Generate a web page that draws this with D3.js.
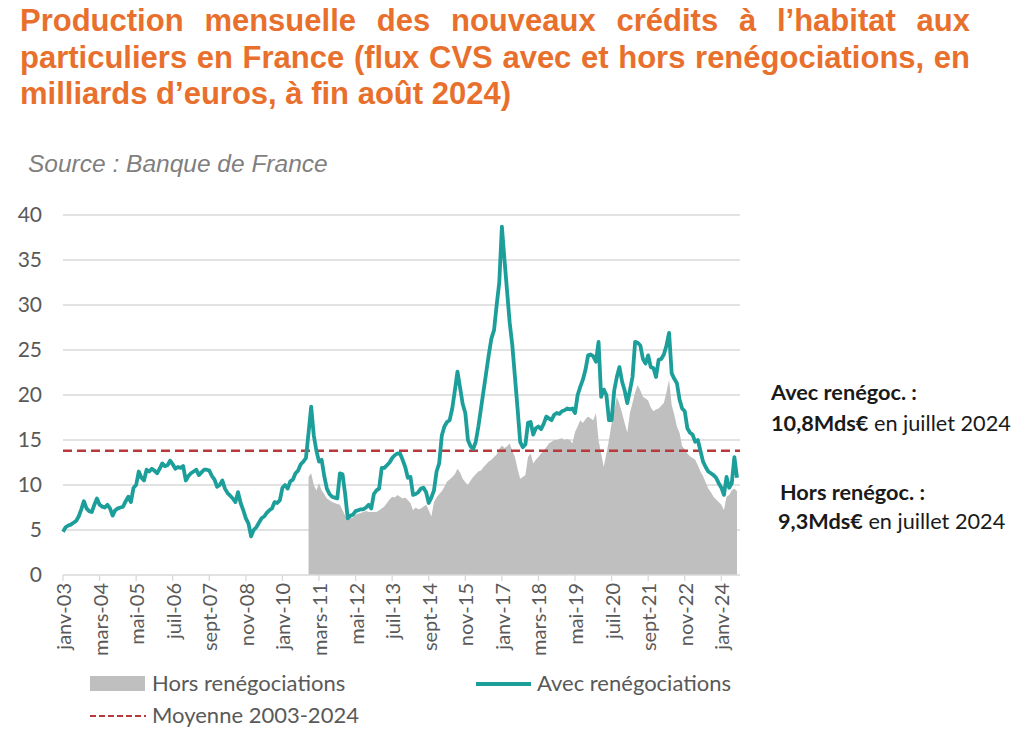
<!DOCTYPE html>
<html><head><meta charset="utf-8">
<script src="https://cdn.jsdelivr.net/npm/d3@7"></script>
<style>
html,body{margin:0;padding:0;background:#fff;}
svg{display:block;}
</style></head>
<body>
<svg id="c" width="1024" height="742"></svg>
<script>
// ---------- DATA ----------
const startYear = 2003; // janv-03 = index 0
const avec = [
 4.8, 5.3, 5.5, 5.6, 5.8, 6.0, 6.5, 7.3, 8.2, 7.4, 7.1, 7.0,
 7.8, 8.5, 7.8, 7.6, 7.5, 7.8, 7.4, 6.6, 7.2, 7.4, 7.5, 7.6,
 8.2, 8.7, 8.1, 9.7, 10.0, 11.5, 10.8, 10.5, 11.7, 11.5, 11.8, 11.6,
 11.3, 11.8, 12.4, 12.1, 12.2, 12.7, 12.3, 11.8, 12.0, 11.9, 12.1, 10.5,
 11.0, 11.3, 11.5, 11.7, 11.1, 11.4, 11.7, 11.7, 11.6, 11.0, 10.6, 9.8,
 10.0, 10.5, 9.6, 9.1, 8.8, 8.5, 8.1, 9.2, 8.0, 7.2, 6.3, 5.7,
 4.3, 5.0, 5.3, 5.8, 6.3, 6.5, 6.9, 7.2, 7.4, 8.1, 8.0, 8.3,
 9.7, 10.0, 9.6, 10.4, 10.6, 11.3, 11.6, 12.3, 12.6, 13.0, 15.8, 18.7,
 15.5, 13.8, 12.6, 12.8, 11.0, 9.6, 9.0, 8.7, 8.6, 8.5, 11.3, 11.2,
 9.0, 6.3, 6.6, 6.7, 7.1, 7.2, 7.3, 7.3, 7.5, 7.8, 7.4, 9.0,
 9.4, 9.6, 11.9, 11.9, 12.2, 12.5, 13.0, 13.3, 13.5, 13.5, 12.8, 12.0,
 10.8, 10.9, 8.9, 9.0, 9.2, 9.6, 9.7, 9.2, 8.0, 8.6, 9.4, 11.5,
 12.4, 15.5, 16.5, 17.0, 17.2, 18.5, 20.5, 22.6, 20.8, 19.0, 18.0, 15.0,
 14.3, 14.0, 14.8, 16.5, 18.5, 20.5, 22.5, 24.5, 26.3, 27.2, 30.0, 32.5,
 38.7, 35.0, 31.5, 28.0, 25.5, 22.0, 18.5, 14.8, 14.2, 14.5, 16.9, 17.0,
 15.6, 16.3, 16.5, 16.2, 16.8, 17.6, 17.4, 17.2, 17.8, 18.0, 17.9, 18.2,
 18.3, 18.5, 18.4, 18.5, 18.0, 20.0, 20.9, 21.7, 22.8, 24.4, 24.5, 24.3,
 23.7, 25.9, 19.8, 20.6, 20.0, 17.2, 17.2, 20.5, 22.0, 23.1, 21.5, 20.5,
 19.1, 20.5, 22.0, 25.9, 25.8, 25.5, 24.0, 23.5, 24.4, 23.1, 23.0, 22.0,
 23.9, 24.0, 24.5, 25.5, 26.9, 22.4, 21.8, 21.3, 19.5, 18.5, 18.2, 16.3,
 15.8, 15.6, 14.8, 15.0, 13.8, 12.6, 12.0, 11.5, 11.3, 11.1, 10.8, 10.2,
 9.7, 8.9, 10.9, 9.7, 10.2, 13.1, 10.8
];
const horsStart = 94; // nov-10
const hors = [
 10.9, 11.3,
 10.0, 9.4, 10.2, 9.4, 9.0, 8.5, 8.3, 8.1, 8.0, 7.9, 7.8, 7.2,
 6.6, 6.1, 6.3, 6.4, 6.7, 6.8, 6.9, 7.0, 7.1, 7.0, 7.0, 7.0,
 7.0, 7.2, 7.4, 7.6, 8.0, 8.4, 8.7, 8.6, 8.9, 8.7, 8.5, 8.6,
 8.3, 8.0, 7.2, 7.5, 7.3, 7.4, 7.6, 7.8, 7.2, 6.5, 8.1, 8.6,
 9.0, 9.3, 9.8, 10.4, 10.6, 10.9, 11.2, 11.8, 11.4, 10.7, 10.3, 10.0,
 10.5, 10.9, 11.2, 11.5, 11.6, 12.0, 12.3, 12.6, 12.8, 13.1, 13.4, 14.0,
 14.4, 14.1, 14.3, 14.6, 13.8, 13.1, 11.8, 10.7, 10.9, 11.1, 13.1, 13.5,
 12.4, 12.8, 13.1, 13.5, 13.8, 14.2, 14.6, 14.8, 15.0, 15.0, 15.1, 15.2,
 15.0, 15.1, 15.0, 14.6, 15.9, 16.5, 17.2, 16.9, 17.3, 17.6, 17.4, 17.2,
 18.0, 15.0, 13.5, 12.0, 13.5, 15.0, 16.9, 18.3, 19.8, 19.0, 18.0, 16.9,
 15.8, 18.0, 19.1, 20.3, 21.1, 20.5, 19.8, 19.6, 19.4, 18.6, 18.2, 18.4,
 18.5, 18.8, 19.1, 20.3, 21.7, 18.9, 17.8, 16.5, 15.8, 14.3, 14.0, 13.5,
 13.2, 13.0, 12.8, 12.2, 11.5, 11.0, 10.3, 9.6, 9.2, 8.7, 8.4, 8.1,
 7.8, 7.2, 8.7, 8.9, 9.4, 9.6, 9.3
];
const moyenne = 13.8;
const yTicks = [0, 5, 10, 15, 20, 25, 30, 35, 40];
const xTickIndex = [0,14,28,42,56,70,84,98,112,126,140,154,168,182,196,210,224,238,252];
const xTickLabels = ["janv-03","mars-04","mai-05","juil-06","sept-07","nov-08","janv-10","mars-11","mai-12","juil-13","sept-14","nov-15","janv-17","mars-18","mai-19","juil-20","sept-21","nov-22","janv-24"];
const titleLines = [
 "Production mensuelle des nouveaux crédits à l’habitat aux",
 "particuliers en France (flux CVS avec et hors renégociations, en",
 "milliards d’euros, à fin août 2024)"
];
const sourceText = "Source : Banque de France";
const legendLabels = ["Hors renégociations", "Avec renégociations", "Moyenne 2003-2024"];

// ---------- CHART ----------
const svg = d3.select("#c");
const ORANGE = "#E8702C", TEAL = "#1C9E9A", GREY = "#BFBFBF", RED = "#B8383B";
const FONT = "Lato, 'Open Sans', sans-serif";

const x = d3.scaleLinear().domain([0, avec.length - 1]).range([63, 737]);
const y = d3.scaleLinear().domain([0, 40]).range([575, 215]);

// title (justified)
const tsize = 31;
const tl = svg.append("g").attr("font-family","'Liberation Sans', Arial, sans-serif")
  .attr("font-weight","bold").attr("font-size", tsize).attr("fill", ORANGE);
titleLines.forEach((t,i)=>{
  const el = tl.append("text").attr("x",20).attr("y",31 + i*36.5).text(t);
  if (i < 2) {
    const w = el.node().getComputedTextLength();
    if (w < 950) {
      const n = t.split(" ").length - 1;
      el.attr("word-spacing", ((950 - w) / n).toFixed(2));
    } else {
      el.attr("textLength", 950).attr("lengthAdjust", "spacingAndGlyphs");
    }
  }
});

svg.append("text").attr("x",28).attr("y",172)
  .attr("font-family","'Liberation Sans', Arial, sans-serif").attr("font-style","italic")
  .attr("font-size",24.5).attr("fill","#7F7F7F").text(sourceText);

// grid
svg.append("g").selectAll("line").data(yTicks.filter(d=>d>0)).join("line")
  .attr("x1",63).attr("x2",740).attr("y1",d=>y(d)).attr("y2",d=>y(d))
  .attr("stroke","#D9D9D9").attr("stroke-width",1.3);

// y labels
svg.append("g").selectAll("text").data(yTicks).join("text")
  .attr("x",42).attr("y",d=>y(d)).attr("dy","0.35em").attr("text-anchor","end")
  .attr("font-family",FONT).attr("font-size",21).attr("fill","#595959").text(d=>d);

// area
const horsData = hors.map((v,i)=>({i:i+horsStart, v}));
svg.append("path").datum(horsData)
  .attr("d", d3.area().x(d=>x(d.i)).y0(y(0)).y1(d=>y(d.v)))
  .attr("fill", GREY);

// x axis
svg.append("line").attr("x1",63).attr("x2",740).attr("y1",y(0)).attr("y2",y(0))
  .attr("stroke","#D9D9D9").attr("stroke-width",1.3);
svg.append("g").selectAll("line").data(xTickIndex).join("line")
  .attr("x1",d=>x(d)).attr("x2",d=>x(d)).attr("y1",y(0)).attr("y2",y(0)+6)
  .attr("stroke","#D9D9D9").attr("stroke-width",1.3);
svg.append("g").selectAll("text").data(xTickIndex).join("text")
  .attr("transform",d=>`translate(${x(d)+1},583) rotate(-90)`)
  .attr("dy","0.35em").attr("text-anchor","end")
  .attr("font-family",FONT).attr("font-size",20).attr("fill","#595959")
  .text((d,i)=>xTickLabels[i]);

// mean
svg.append("line").attr("x1",63).attr("x2",740).attr("y1",y(moyenne)).attr("y2",y(moyenne))
  .attr("stroke",RED).attr("stroke-width",2.5).attr("stroke-dasharray","9,5");

// line
svg.append("path").datum(avec.map((v,i)=>({i,v})))
  .attr("d", d3.line().x(d=>x(d.i)).y(d=>y(d.v)))
  .attr("fill","none").attr("stroke",TEAL).attr("stroke-width",3.8).attr("stroke-linejoin","round");

// legend
const lg = svg.append("g").attr("font-family",FONT).attr("font-size",22).attr("fill","#595959");
lg.append("rect").attr("x",90).attr("y",676).attr("width",55).attr("height",15).attr("fill",GREY);
lg.append("text").attr("x",152).attr("y",691).text(legendLabels[0]);
lg.append("line").attr("x1",476).attr("x2",531).attr("y1",684).attr("y2",684).attr("stroke",TEAL).attr("stroke-width",4);
lg.append("text").attr("x",537).attr("y",691).text(legendLabels[1]);
lg.append("line").attr("x1",90).attr("x2",146).attr("y1",716).attr("y2",716).attr("stroke",RED).attr("stroke-width",2).attr("stroke-dasharray","6,3");
lg.append("text").attr("x",152).attr("y",723).text(legendLabels[2]);

// annotations
const an = svg.append("g").attr("font-family",FONT).attr("font-size",21.7).attr("fill","#1a1a1a");
an.append("text").attr("x",771).attr("y",400).attr("font-weight","bold").text("Avec renégoc. :");
const a2 = an.append("text").attr("x",771).attr("y",431);
a2.append("tspan").attr("font-weight","bold").text("10,8Mds€");
a2.append("tspan").text(" en juillet 2024");
an.append("text").attr("x",780).attr("y",500).attr("font-weight","bold").text("Hors renégoc. :");
const a4 = an.append("text").attr("x",778).attr("y",529);
a4.append("tspan").attr("font-weight","bold").text("9,3Mds€");
a4.append("tspan").text(" en juillet 2024");
</script>
</body></html>
